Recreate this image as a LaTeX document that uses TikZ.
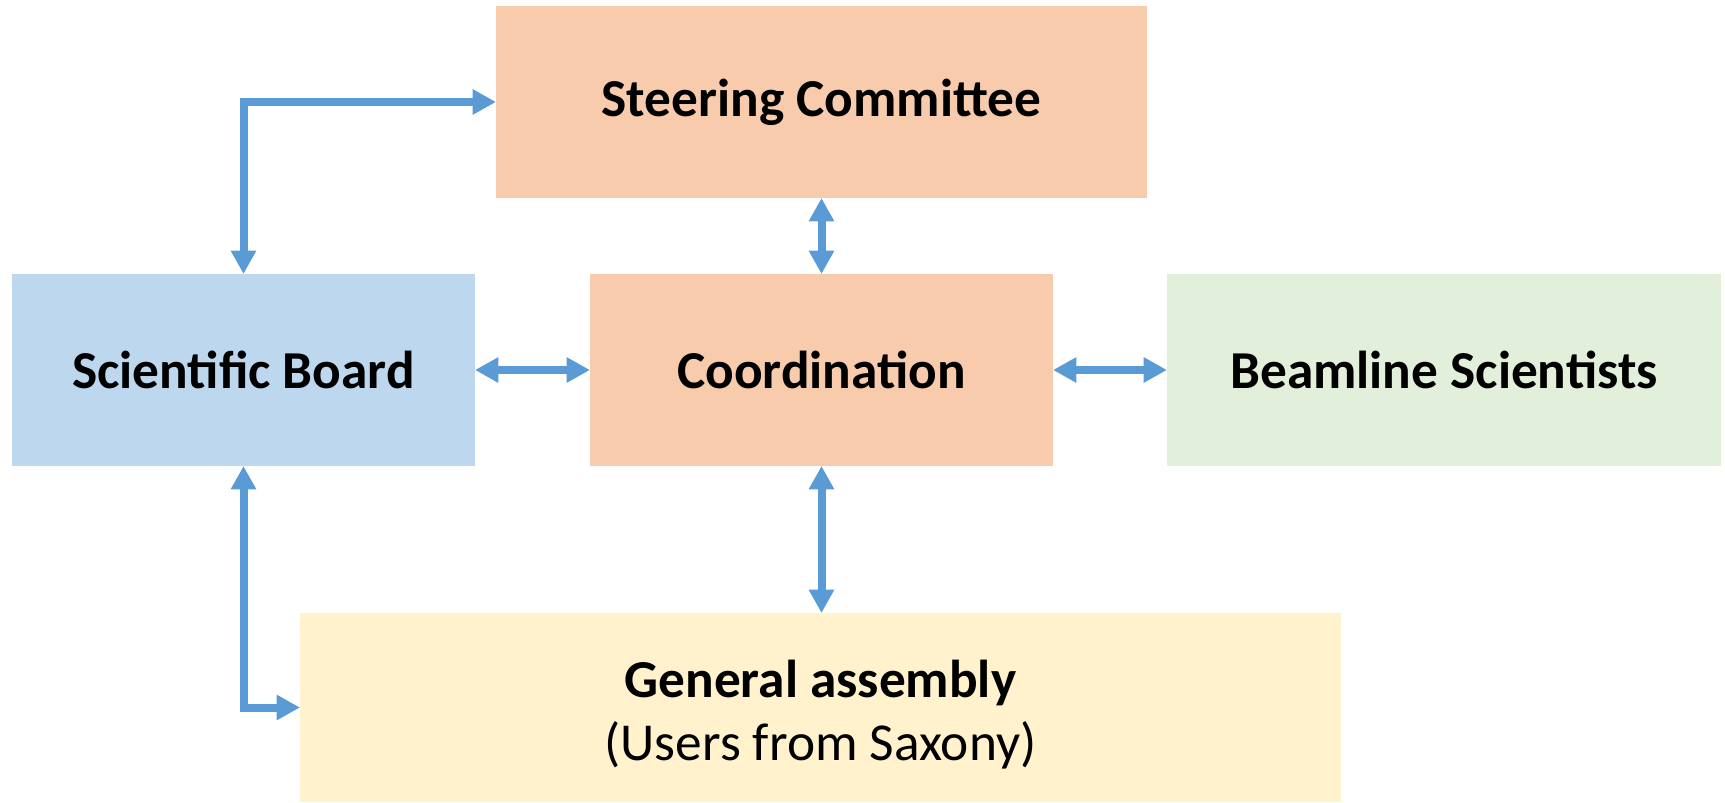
\documentclass[tikz,border=0pt]{standalone}
\usepackage{fontspec}
\setmainfont{Carlito}
\usetikzlibrary{arrows.meta}
\definecolor{peach}{HTML}{F8CBAD}
\definecolor{lblue}{HTML}{BDD7EE}
\definecolor{lgreen}{HTML}{E2EFDA}
\definecolor{lyellow}{HTML}{FFF2CC}
\definecolor{arrblue}{HTML}{5B9BD5}
\tikzset{
  box/.style={draw=none, inner sep=0pt, outer sep=0pt, align=center,
    font=\fontsize{40}{47.25}\selectfont},
  arr/.style={arrblue, line width=6pt, line join=miter,
    {Triangle[width=18pt,length=17.5pt]}-{Triangle[width=18pt,length=17.5pt]}}
}
\begin{document}
\begin{tikzpicture}[x=0.75pt,y=-0.75pt]
\useasboundingbox (0,0) rectangle (1725,803);
\node[box, fill=peach, minimum width=488.25pt, minimum height=144pt] (steer) at (821.5,102) {\textbf{Steering Committee}};
\node[box, fill=lblue, minimum width=347.25pt, minimum height=144pt] (sci) at (243.5,370) {\textbf{Scientific Board}};
\node[box, fill=peach, minimum width=347.25pt, minimum height=144pt] (coord) at (821.5,370) {\textbf{Coordination}};
\node[box, fill=lgreen, minimum width=415.5pt, minimum height=144pt] (beam) at (1444,370) {\textbf{Beamline Scientists}};
\node[box, fill=lyellow, minimum width=780.75pt, minimum height=141.75pt] (ga) at (820.5,707.5) {};
\node[box] (gatext) at ([yshift=-5pt]ga.center) {\textbf{General assembly}\\(Users from Saxony)};
\draw[arr] (sci.north) |- (steer.west);
\draw[arr] (steer.south) -- (coord.north);
\draw[arr] (sci.east) -- (coord.west);
\draw[arr] (coord.east) -- (beam.west);
\draw[arr] (coord.south) -- (coord.south |- ga.north);
\draw[arr] (sci.south) |- (ga.west);
\end{tikzpicture}
\end{document}
